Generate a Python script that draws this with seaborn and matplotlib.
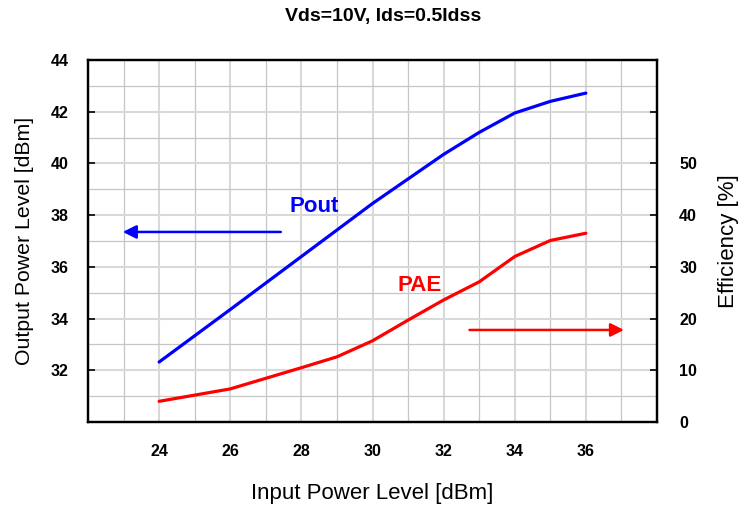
import matplotlib
matplotlib.use("Agg")
import matplotlib.pyplot as plt
import seaborn as sns
import pandas as pd
from matplotlib.ticker import MultipleLocator, FixedLocator
from matplotlib.font_manager import FontProperties

# Data
pin_pout = [24, 26, 28, 30, 32, 33, 34, 35, 36]
pout = [32.32, 34.35, 36.4, 38.45, 40.35, 41.2, 41.95, 42.4, 42.72]
pin_pae = [24, 26, 28, 29, 30, 31, 32, 33, 34, 35, 36]
pae = [4.0, 6.4, 10.5, 12.6, 15.7, 19.7, 23.6, 27.1, 32.0, 35.1, 36.5]

x_ticks = [22, 24, 26, 28, 30, 32, 34, 36, 38]
x_labels = ["", "24", "26", "28", "30", "32", "34", "36", ""]
yl_ticks = [30, 32, 34, 36, 38, 40, 42, 44]
yl_labels = ["", "32", "34", "36", "38", "40", "42", "44"]
yr_ticks = [0, 10, 20, 30, 40, 50, 60]
yr_labels = ["0", "10", "20", "30", "40", "50", ""]

title = "Vds=10V, Ids=0.5Idss"

sns.set_style("white")
plt.rcParams['font.family'] = ['Liberation Sans', 'DejaVu Sans']
plt.rcParams.update({'text.color': 'black', 'axes.labelcolor': 'black',
                     'xtick.color': 'black', 'ytick.color': 'black'})

df1 = pd.DataFrame({"pin": pin_pout, "pout": pout})
df2 = pd.DataFrame({"pin": pin_pae, "pae": pae})

fig = plt.figure(figsize=(7.52, 5.08), dpi=100)
ax = fig.add_axes([88/752, 1-422/508, (657-88)/752, (422-60)/508])
ax2 = ax.twinx()

sns.lineplot(data=df1, x="pin", y="pout", ax=ax, color="#0000ff", lw=2.3)
sns.lineplot(data=df2, x="pin", y="pae", ax=ax2, color="#ff0000", lw=2.3)

ax.set_xlim(22, 38)
ax.set_ylim(30, 44)
ax2.set_ylim(0, 70)

ax.xaxis.set_major_locator(FixedLocator(x_ticks))
ax.xaxis.set_minor_locator(MultipleLocator(1))
ax.yaxis.set_major_locator(FixedLocator(yl_ticks))
ax.yaxis.set_minor_locator(MultipleLocator(1))
ax.set_xticklabels(x_labels)
ax.set_yticklabels(yl_labels)
ax2.yaxis.set_major_locator(FixedLocator(yr_ticks))
ax2.set_yticklabels(yr_labels)

tickfp = FontProperties(family=['Liberation Sans', 'DejaVu Sans'], weight='bold', size=11.5)
for lab in ax.get_xticklabels() + ax.get_yticklabels() + ax2.get_yticklabels():
    lab.set_fontproperties(tickfp)
    lab.set_color('black')

ax.grid(which='major', color='#d9d9d9', lw=1.5)
ax.grid(which='minor', color='#c6c6c6', lw=0.9)
ax.set_axisbelow(True)

ax.tick_params(axis='both', which='major', direction='in', length=5, width=1.2, pad=14, colors='black')
ax.tick_params(axis='both', which='minor', length=0)
ax2.tick_params(axis='y', which='major', direction='in', length=5, width=1.2, pad=16, colors='black')
ax.tick_params(axis='x', pad=16)

for a in (ax, ax2):
    for s in a.spines.values():
        s.set_color('black')
        s.set_linewidth(1.6)

ax.set_xlabel("Input Power Level [dBm]", fontsize=16, labelpad=17, color='black')
ax.set_ylabel("Output Power Level [dBm]", fontsize=15.3, labelpad=12, color='black')
ax2.set_ylabel("Efficiency [%]", fontsize=16, labelpad=15, color='black')

fig.text(383/752, 1-17/508, title, ha='center', va='center', fontsize=14, fontweight='bold', color='black')

ax.annotate("", xy=(22.9, 37.35), xytext=(27.5, 37.35),
            arrowprops=dict(arrowstyle='-|>', color='#0000ff', lw=1.8, mutation_scale=20))
ax2.annotate("", xy=(37.15, 17.8), xytext=(32.65, 17.8),
             arrowprops=dict(arrowstyle='-|>', color='#ff0000', lw=1.8, mutation_scale=20))

ax.text(28.36, 38.35, "Pout", color='#0000ff', fontsize=16, fontweight='bold', ha='center', va='center')
ax2.text(31.33, 26.4, "PAE", color='#ff0000', fontsize=16, fontweight='bold', ha='center', va='center')

fig.savefig("out.png", dpi=100)
